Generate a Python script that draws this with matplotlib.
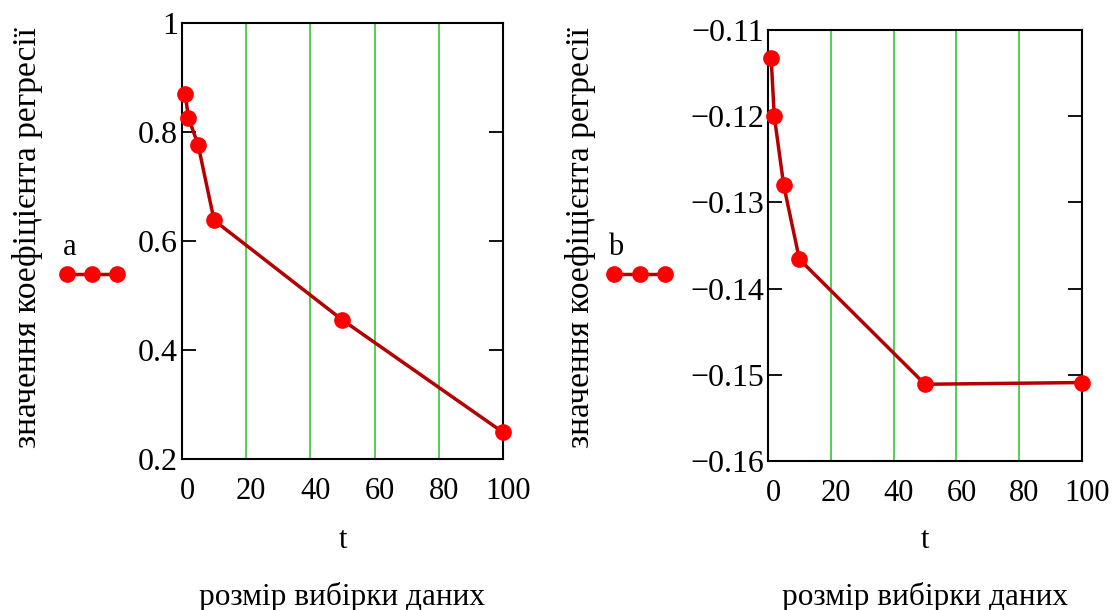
import matplotlib
matplotlib.use("Agg")
import matplotlib.pyplot as plt
import matplotlib.transforms as mtransforms
from matplotlib.lines import Line2D

plt.rcParams['font.family'] = ['Liberation Serif', 'DejaVu Serif']

# sample sizes and regression coefficients
t = [1, 2, 5, 10, 50, 100]
a_vals = [0.870, 0.826, 0.777, 0.638, 0.455, 0.249]
b_vals = [-0.1132, -0.1200, -0.1280, -0.1366, -0.1511, -0.1509]

x_ticks = [0, 20, 40, 60, 80, 100]
x_tick_labels = ['0', '20', '40', '60', '80', '100']
a_ticks = [0.2, 0.4, 0.6, 0.8, 1.0]
a_tick_labels = ['0.2', '0.4', '0.6', '0.8', '1']
b_ticks = [-0.16, -0.15, -0.14, -0.13, -0.12, -0.11]
b_tick_labels = ['\u22120.16', '\u22120.15', '\u22120.14', '\u22120.13', '\u22120.12', '\u22120.11']
grid_x = [20, 40, 60, 80]

ylabel = 'значення коефіцієнта регресії'
xlabel = 'розмір вибірки даних'

line_color = '#b40000'
marker_color = '#ff0000'
grid_color = '#44cc44'

fig = plt.figure(figsize=(11.2, 6.1), dpi=100)

panels = [
    ([0.1625, 0.2475, 0.2866, 0.7148], a_vals, (0.2, 1.0), a_ticks, a_tick_labels, 'a', 0.025, 0.0598, 0.1045),
    ([0.6857, 0.2443, 0.2804, 0.7066], b_vals, (-0.16, -0.11), b_ticks, b_tick_labels, 'b', 0.518, 0.548, 0.594),
]

# x tick labels sit a few pixels right of their ticks, as in Mathcad
shift = mtransforms.ScaledTranslation(5 / 100, 0, fig.dpi_scale_trans)

for pos, vals, ylim, yt, ytl, name, ylab_x, leg_x0, leg_x1 in panels:
    ax = fig.add_axes(pos)
    for gx in grid_x:
        ax.axvline(gx, color=grid_color, lw=1.3, zorder=1)
    ax.plot(t, vals, color=line_color, lw=2.5, marker='o', markersize=11,
            markerfacecolor=marker_color, markeredgecolor=marker_color,
            zorder=3, clip_on=False)
    ax.set_xlim(0, 100)
    ax.set_ylim(*ylim)
    ax.set_xticks(x_ticks)
    ax.set_xticklabels(x_tick_labels)
    ax.set_yticks(yt)
    ax.set_yticklabels(ytl)
    ax.tick_params(axis='y', direction='in', left=True, right=True, length=10,
                   width=1.3, labelsize=23, pad=3)
    ax.tick_params(axis='x', length=0, labelsize=22, pad=13)
    for lbl in ax.get_xticklabels():
        lbl.set_transform(lbl.get_transform() + shift)
    for sp in ax.spines.values():
        sp.set_linewidth(1.5)
        sp.set_color('black')

    cx = pos[0] + pos[2] / 2
    fig.text(cx, 1 - 540 / 610, 't', ha='center', va='center', fontsize=22)
    fig.text(cx, 1 - 597 / 610, xlabel, ha='center', va='center', fontsize=22.5)
    fig.text(ylab_x, 0.61, ylabel, rotation=90, ha='center', va='center', fontsize=24)

    # Mathcad-style trace legend
    fig.text(leg_x0 + 0.002, 1 - 247 / 610, name, ha='center', va='center', fontsize=22)
    fig.add_artist(Line2D([leg_x0, (leg_x0 + leg_x1) / 2, leg_x1],
                          [1 - 274 / 610] * 3, transform=fig.transFigure,
                          color=line_color, lw=2.5, marker='o', markersize=11,
                          markerfacecolor=marker_color, markeredgecolor=marker_color))

fig.savefig('out.png', dpi=100)
